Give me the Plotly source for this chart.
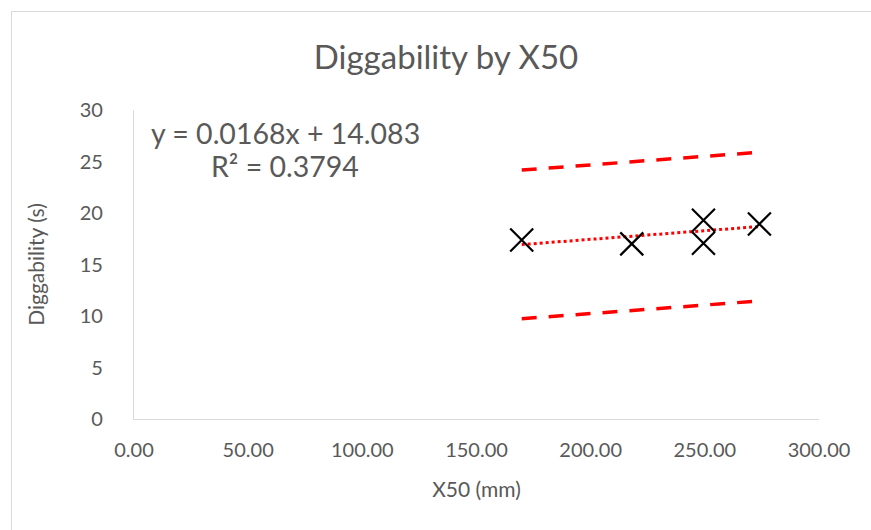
import plotly.graph_objects as go

# Data
x50_mm = [169.8, 218.0, 249.4, 249.4, 273.9]
diggability_s = [17.38, 17.0, 19.3, 17.06, 18.93]

# Linear trend (displayed equation)
slope = 0.0168
intercept = 14.083
r_squared = 0.3794

# Dashed bands
band_x = [169.8, 273.9]
upper_y = [24.17, 25.9]
lower_y = [9.74, 11.46]

x_ticks = [0, 50, 100, 150, 200, 250, 300]
y_ticks = [0, 5, 10, 15, 20, 25, 30]

W, H = 871, 530
L, R, T, B = 134, 52, 110, 111
pw, ph = W - L - R, H - T - B

trend_x = [min(x50_mm), max(x50_mm)]
trend_y = [slope * v + intercept for v in trend_x]

gray = "#595959"
fnt = "Lato, sans-serif"

fig = go.Figure()
fig.add_trace(go.Scatter(x=band_x, y=upper_y, mode="lines",
                         line=dict(color="#ff0000", width=3.5, dash="15px,12px"),
                         showlegend=False, hoverinfo="skip"))
fig.add_trace(go.Scatter(x=band_x, y=lower_y, mode="lines",
                         line=dict(color="#ff0000", width=3.5, dash="15px,12px"),
                         showlegend=False, hoverinfo="skip"))
fig.add_trace(go.Scatter(x=trend_x, y=trend_y, mode="lines",
                         line=dict(color="#ff0000", width=3, dash="dot"),
                         showlegend=False, hoverinfo="skip"))
fig.add_trace(go.Scatter(x=x50_mm, y=diggability_s, mode="markers",
                         marker=dict(symbol="x-thin-open", size=23, color="black",
                                     line=dict(color="black", width=2.2)),
                         showlegend=False))

def px_x(p):
    return (p - L) / pw

def px_y(p):
    return (H - B - p) / ph

fig.add_shape(type="rect", xref="paper", yref="paper",
              x0=px_x(11.5), x1=px_x(W + 5), y0=px_y(11.5), y1=px_y(H + 5),
              line=dict(color="#d9d9d9", width=1), fillcolor="rgba(0,0,0,0)")

fig.add_annotation(xref="paper", yref="paper", x=px_x(285), y=px_y(133),
                   text=f"y = {slope}x + {intercept}", showarrow=False,
                   font=dict(family=fnt, size=28.5, color=gray), xanchor="center", yanchor="middle")
fig.add_annotation(xref="paper", yref="paper", x=px_x(285), y=px_y(166),
                   text=f"R² = {r_squared}", showarrow=False,
                   font=dict(family=fnt, size=28.5, color=gray), xanchor="center", yanchor="middle")

fig.update_layout(
    width=W, height=H,
    margin=dict(l=L, r=R, t=T, b=B),
    paper_bgcolor="white", plot_bgcolor="white",
    title=dict(text="Diggability by X50", xref="paper", x=px_x(446), xanchor="center",
               yref="container", y=1 - 57 / H, yanchor="middle",
               font=dict(family=fnt, size=33, color=gray)),
    xaxis=dict(range=[0, 300], tickvals=x_ticks, tickformat=".2f",
               showgrid=False, zeroline=False, showline=True,
               linecolor="#d9d9d9", linewidth=1.3, ticks="outside", ticklen=13,
               tickcolor="rgba(0,0,0,0)",
               tickfont=dict(family=fnt, size=20, color=gray),
               title=dict(text="X50 (mm)", standoff=22,
                          font=dict(family=fnt, size=21, color=gray))),
    yaxis=dict(range=[0, 30], tickvals=y_ticks,
               showgrid=False, zeroline=False, showline=True,
               linecolor="#d9d9d9", linewidth=1.3, ticks="outside", ticklen=26,
               tickcolor="rgba(0,0,0,0)",
               tickfont=dict(family=fnt, size=20, color=gray),
               title=dict(text="Diggability (s)", standoff=29,
                          font=dict(family=fnt, size=21, color=gray))),
)

fig.write_html("out.html")
